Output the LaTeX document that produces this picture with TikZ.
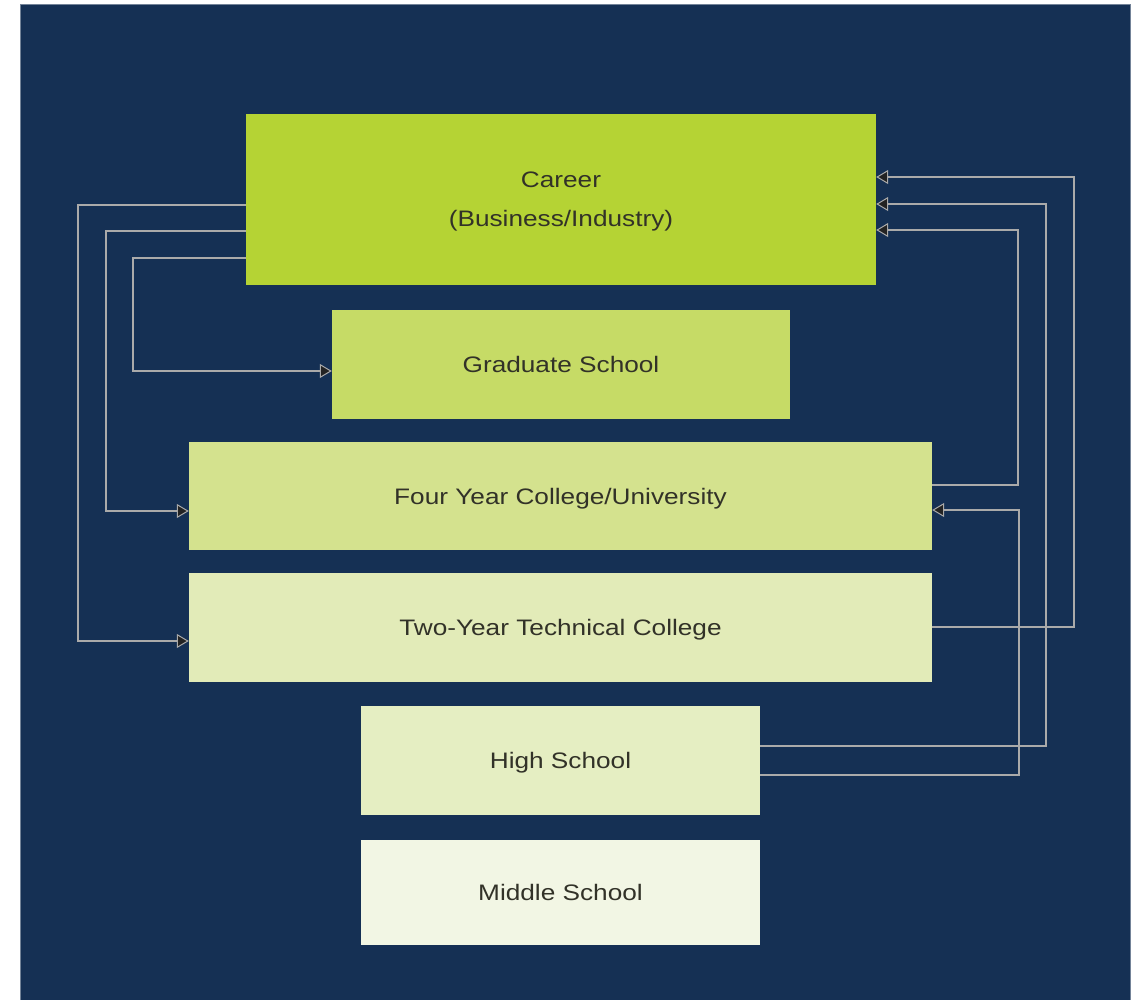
\documentclass[tikz,border=0pt]{standalone}
\usepackage{fontspec}
\setmainfont{Liberation Sans}[FakeStretch=1.17]
\usetikzlibrary{arrows.meta}
\definecolor{navy}{RGB}{21,48,84}
\definecolor{cCareer}{RGB}{181,211,52}
\definecolor{cGrad}{RGB}{198,219,102}
\definecolor{cFour}{RGB}{212,226,142}
\definecolor{cTwo}{RGB}{226,235,184}
\definecolor{cHigh}{RGB}{229,238,194}
\definecolor{cMiddle}{RGB}{242,246,228}
\definecolor{txt}{RGB}{50,50,40}
\definecolor{lineg}{RGB}{170,170,170}
\definecolor{tipg}{RGB}{35,35,35}
\tikzset{
  box/.style={draw=none, inner sep=0pt, align=center, text=txt,
    text depth=0pt, font=\fontsize{22.4}{39}\selectfont},
  conn/.style={draw=lineg, line width=1.6pt},
  arr/.style={conn, -{Triangle[length=12pt,width=14pt,line width=1pt,fill=tipg]}}
}
\begin{document}
\begin{tikzpicture}[x=1pt,y=-1pt]
\useasboundingbox (0,0) rectangle (1143,999);
\fill[white] (0,0) rectangle (1143,999);
\draw[fill=navy, draw=navy!60!white, line width=0.6pt] (20,4) rectangle (1130,1005);

\node[box, fill=cCareer, minimum width=630pt, minimum height=171pt] (career) at (561,199.5) {Career\\(Business/Industry)};
\node[box, fill=cGrad, minimum width=458pt, minimum height=109pt] (grad) at (561,364.5) {Graduate School};
\node[box, fill=cFour, minimum width=743pt, minimum height=108pt] (four) at (560.5,496) {Four Year College/University};
\node[box, fill=cTwo, minimum width=743pt, minimum height=109pt] (two) at (560.5,627.5) {Two-Year Technical College};
\node[box, fill=cHigh, minimum width=399pt, minimum height=109pt] (high) at (560.5,760.5) {High School};
\node[box, fill=cMiddle, minimum width=399pt, minimum height=105pt] (middle) at (560.5,892.5) {Middle School};

% left side: from Career down to schools
\draw[arr] (career.west |- 0,205) -- (78,205) |- (two.west |- 0,641);
\draw[arr] (career.west |- 0,231) -- (106,231) |- (four.west |- 0,511);
\draw[arr] (career.west |- 0,258) -- (133,258) |- (grad.west |- 0,371);

% right side: from schools up to Career / Four Year
\draw[arr] (two.east |- 0,627) -| (1074,177) -- (career.east |- 0,177);
\draw[arr] (high.east |- 0,746) -| (1046,204) -- (career.east |- 0,204);
\draw[arr] (four.east |- 0,485) -| (1018,230) -- (career.east |- 0,230);
\draw[arr] (high.east |- 0,775) -| (1019,510) -- (four.east |- 0,510);
\end{tikzpicture}
\end{document}
